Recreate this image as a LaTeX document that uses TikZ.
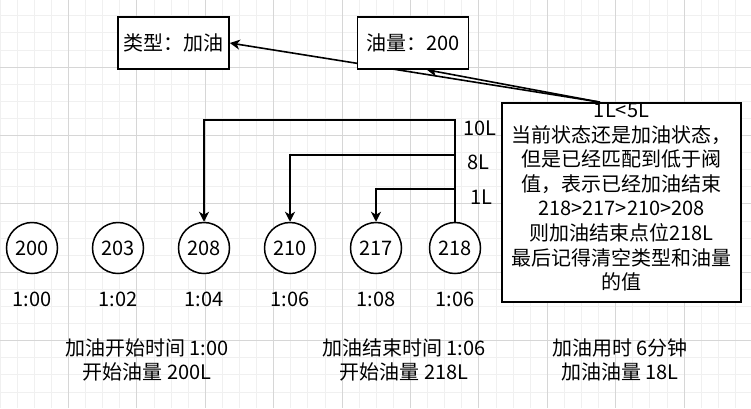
\documentclass[tikz,border=0pt]{standalone}
\usepackage{fontspec}
\setmainfont{Noto Sans CJK SC}
\usetikzlibrary{arrows.meta,positioning}
\pgfdeclarelayer{grid}
\pgfdeclarelayer{wires}
\pgfsetlayers{grid,wires,main}

\begin{document}
\begin{tikzpicture}[
  x=1pt, y=-1pt,
  font=\fontsize{20}{24.6}\selectfont,
  box/.style={draw, line width=1.7pt, fill=white, inner sep=0pt,
              minimum width=111pt, minimum height=52pt},
  note/.style={draw, line width=1.7pt, fill=white, align=center, inner sep=0pt,
              text width=239pt, text height=14.5pt, text depth=184.5pt},
  state/.style={draw, circle, line width=1.5pt, fill=white, inner sep=0pt,
              minimum size=51pt},
  lbl/.style={inner sep=0pt},
  summary/.style={align=center, inner sep=0pt},
  ar/.style={line width=1.6pt, -{Stealth[length=10pt, width=10pt, inset=3pt]}},
  minor/.style={draw=black!6, line width=0.8pt},
  major/.style={draw=black!16, line width=0.9pt}
]
\useasboundingbox (0,0) rectangle (751,408);

% paper grid
\begin{pgfonlayer}{grid}
\fill[white] (0,0) rectangle (751,408);
\foreach \k in {0,...,44} {\draw[minor] (17.1*\k,0) -- (17.1*\k,408);}
\foreach \k in {0,...,24} {\draw[minor] (0,17.1*\k-1.4) -- (751,17.1*\k-1.4);}
\foreach \k in {1,...,10} {\draw[major] (68.4*\k,0) -- (68.4*\k,408);}
\foreach \k in {1,...,6} {\draw[major] (0,68.4*\k-1.4) -- (751,68.4*\k-1.4);}
\end{pgfonlayer}

\node[box] (kind) at (173.5,43) {类型：加油};
\node[box] (amount) at (413,43) {油量：200};

\node[note] (memo) at (621.5,202.5) {1L<5L\\当前状态还是加油状态，\\但是已经匹配到低于阀\\值，表示已经加油结束\\218>217>210>208\\则加油结束点位218L\\最后记得清空类型和油量\\的值};

\begin{pgfonlayer}{wires}
\draw[ar] ([xshift=-21.5pt]memo.north) -- (kind.east);
\draw[ar] ([xshift=-21.5pt]memo.north) -- ([xshift=14pt]amount.south);
\end{pgfonlayer}

% readings
\node[state] (c200) at (32,248) {200};
\node[state, right=33.5pt of c200] (c203) {203};
\node[state, right=33.5pt of c203] (c208) {208};
\node[state, right=33.5pt of c208] (c210) {210};
\node[state, right=33.5pt of c210] (c217) {217};
\node[state, right=26.5pt of c217] (c218) {218};

\node[lbl] (t200) at ([yshift=-51pt]c200.center) {1:00};
\node[lbl] (t203) at ([yshift=-51pt]c203.center) {1:02};
\node[lbl] (t208) at ([yshift=-51pt]c208.center) {1:04};
\node[lbl] (t210) at ([yshift=-51pt]c210.center) {1:06};
\node[lbl] (t217) at ([yshift=-51pt]c217.center) {1:08};
\node[lbl] (t218) at ([yshift=-51pt]c218.center) {1:06};

% look-back steps
\draw[ar] (c218.north) -- ++(0,-102) coordinate (k10) -| (c208.north);
\draw[ar] (c218.north) -- ++(0,-67) coordinate (k8) -| (c210.north);
\draw[ar] (c218.north) -- ++(0,-33) coordinate (k1) -| (c217.north);
\node[lbl] (d10) at ([shift={(25pt,-9pt)}]k10) {10L};
\node[lbl] (d8) at ([shift={(23pt,-8pt)}]k8) {8L};
\node[lbl] (d1) at ([shift={(26pt,-8pt)}]k1) {1L};

\node[summary] (start) at (147,360) {加油开始时间 1:00\\开始油量 200L};
\node[summary] (stop) at (404,360) {加油结束时间 1:06\\开始油量 218L};
\node[summary] (used) at (620,360) {加油用时 6分钟\\加油油量 18L};
\end{tikzpicture}
\end{document}
